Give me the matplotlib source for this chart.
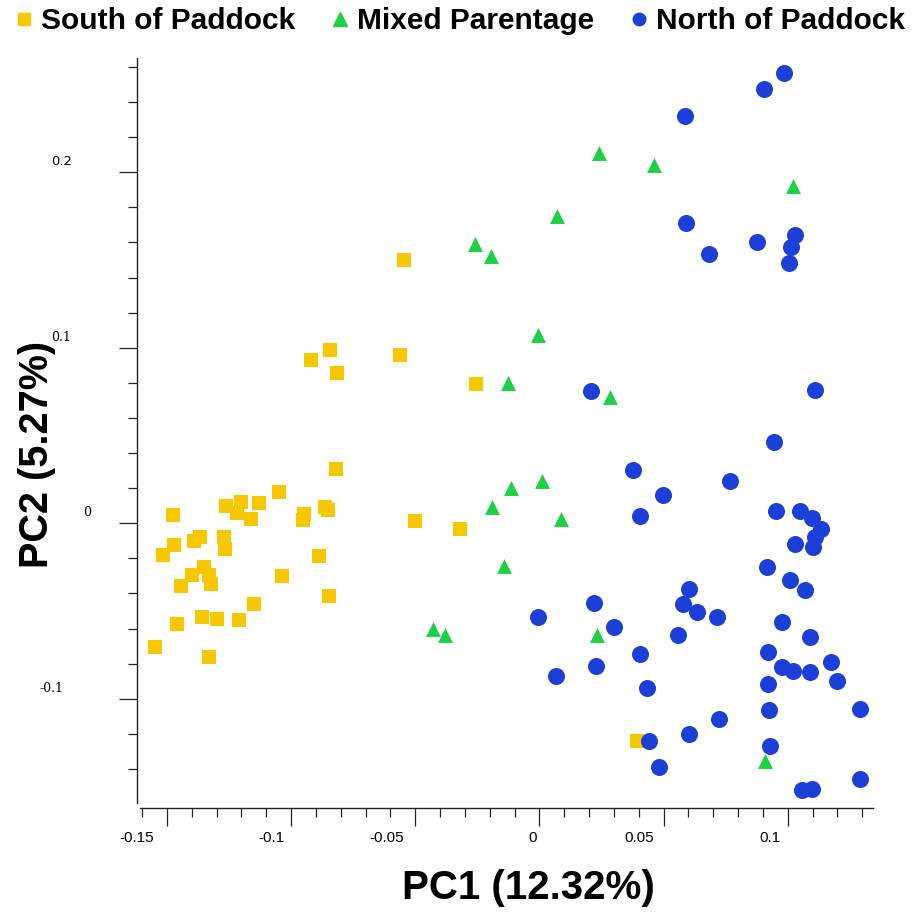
import matplotlib.pyplot as plt
import matplotlib.transforms as mtransforms
from matplotlib.lines import Line2D
from matplotlib.ticker import FixedLocator, MultipleLocator

group_names = ['South of Paddock', 'Mixed Parentage', 'North of Paddock']

south_x = [-0.0545, -0.0561, -0.0255, -0.0919, -0.0843, -0.0814, -0.0820, -0.0500, -0.0319, -0.1047,
           -0.1475, -0.1261, -0.1200, -0.1128, -0.1216, -0.1161, -0.0948, -0.0950, -0.0863, -0.0853,
           -0.1366, -0.1390, -0.1271, -0.1265, -0.1471, -0.1516, -0.0888, -0.1349, -0.1399, -0.1331,
           -0.1323, -0.1441, -0.1036, -0.0847, -0.1149, -0.1460, -0.1359, -0.1296, -0.1210, -0.1547,
           -0.1330, 0.0393]
south_y = [0.150, 0.0959, 0.0794, 0.0930, 0.0987, 0.0856, 0.0309, 0.0013, -0.0032, 0.0178,
           0.0047, 0.0099, 0.0123, 0.0116, 0.0057, 0.0023, 0.0051, 0.0019, 0.0095, 0.0074,
           -0.0080, -0.0099, -0.0076, -0.0146, -0.0125, -0.0179, -0.0185, -0.0247, -0.0295, -0.0295,
           -0.0346, -0.0357, -0.0300, -0.0416, -0.0458, -0.0574, -0.0532, -0.0545, -0.0553, -0.0705,
           -0.0762, -0.1240]

mixed_x = [0.0240, 0.0461, 0.1021, 0.0072, -0.0259, -0.0194, -0.0005, -0.0126, 0.0284, -0.0114,
           0.0011, -0.0190, 0.0087, -0.0142, -0.0428, -0.0380, 0.0232, 0.0908]
mixed_y = [0.211, 0.204, 0.192, 0.175, 0.159, 0.152, 0.107, 0.080, 0.072, 0.020,
           0.024, 0.0093, 0.0025, -0.0244, -0.0602, -0.0636, -0.0636, -0.1354]

north_x = [0.0985, 0.0904, 0.0586, 0.0591, 0.0683, 0.0877, 0.1029, 0.1013, 0.1005, 0.0208,
           0.1110, 0.0945, 0.0377, 0.0498, 0.0768, 0.0405, 0.0953, 0.1049, 0.1097, 0.1134,
           0.1110, 0.1029, 0.1102, 0.0917, 0.1009, 0.1069, 0.0603, 0.0578, 0.0635, 0.0715,
           0.0220, 0.0301, -0.0005, 0.0557, 0.0976, 0.1089, 0.0405, 0.0921, 0.0228, 0.0067,
           0.0433, 0.0976, 0.1021, 0.1089, 0.1174, 0.1198, 0.0921, 0.0925, 0.1291, 0.0723,
           0.0442, 0.0603, 0.0929, 0.0482, 0.1291, 0.1059, 0.1097]
north_y = [0.2566, 0.2474, 0.2321, 0.1711, 0.1534, 0.1603, 0.1643, 0.1575, 0.1483, 0.0754,
           0.0760, 0.0463, 0.0304, 0.0161, 0.0241, 0.0042, 0.0070, 0.0070, 0.0030, -0.0032,
           -0.0078, -0.0118, -0.0135, -0.0249, -0.0323, -0.0380, -0.0374, -0.0460, -0.0506, -0.0534,
           -0.0454, -0.0591, -0.0534, -0.0637, -0.0562, -0.0648, -0.0745, -0.0733, -0.0813, -0.0870,
           -0.0938, -0.0819, -0.0842, -0.0847, -0.0790, -0.0899, -0.0915, -0.1063, -0.1058, -0.1113,
           -0.1240, -0.1200, -0.1269, -0.1389, -0.1458, -0.1520, -0.1514]

x_ticks = [-0.15, -0.1, -0.05, 0, 0.05, 0.1]
x_tick_labels = ['-0.15', '-0.1', '-0.05', '0', '0.05', '0.1']
y_ticks = [-0.1, 0, 0.1, 0.2]
y_tick_labels = ['-0.1', '0', '0.1', '0.2']

yellow = '#F7C700'
green = '#1ED144'
blue = '#1C3FD8'

fig = plt.figure(figsize=(9.24, 9.13), dpi=100)
ax = fig.add_axes([140 / 924, 110 / 913, 733 / 924, 745 / 913])

ax.scatter(south_x, south_y, marker='s', s=100, color=yellow, linewidths=0, zorder=2)
ax.scatter(mixed_x, mixed_y, marker='^', s=115, color=green, linewidths=0, zorder=3)
ax.scatter(north_x, north_y, marker='o', s=150, color=blue, linewidths=0, zorder=4)

ax.set_xlim(-0.1608, 0.1343)
ax.set_ylim(-0.1594, 0.2651)

for side in ['top', 'right']:
    ax.spines[side].set_visible(False)
ax.spines['bottom'].set_position(('outward', 3.6))
ax.spines['left'].set_position(('outward', 2.2))
for side in ['bottom', 'left']:
    ax.spines[side].set_linewidth(1.0)
    ax.spines[side].set_color('#222222')

ax.xaxis.set_major_locator(FixedLocator(x_ticks))
ax.xaxis.set_minor_locator(MultipleLocator(0.01))
ax.yaxis.set_major_locator(FixedLocator(y_ticks))
ax.yaxis.set_minor_locator(MultipleLocator(0.02))
ax.set_xticklabels(x_tick_labels, fontfamily='Liberation Sans', fontsize=11)
ax.set_yticklabels(y_tick_labels, fontfamily='DejaVu Serif', fontsize=9)

ax.tick_params(which='major', length=13, width=0.9, color='#222222')
ax.tick_params(which='minor', length=6.5, width=0.9, color='#222222')
ax.tick_params(axis='x', which='major', pad=3.5)
ax.tick_params(axis='y', which='major', pad=34)

# the source program draws its tick labels a little off the ticks
x_label_shift = [-30, -20, -29, -7, -24, -18]
for lab, dx in zip(ax.get_xticklabels(), x_label_shift):
    lab.set_transform(lab.get_transform() + mtransforms.ScaledTranslation(dx / 100, 0, fig.dpi_scale_trans))
y_label_shift = [-8, 19, -1, 0]
for lab, dx in zip(ax.get_yticklabels(), y_label_shift):
    lab.set_transform(lab.get_transform() + mtransforms.ScaledTranslation(dx / 100, 12 / 100, fig.dpi_scale_trans))
ax.get_yticklabels()[3].set_fontfamily('DejaVu Sans')
ax.get_yticklabels()[3].set_fontsize(9.5)

fig.text(528 / 924, 1 - 888 / 913, 'PC1 (12.32%)', ha='center', va='center',
         fontfamily='Liberation Sans', fontweight='bold', fontsize=29)
fig.text(37 / 924, 1 - 454 / 913, 'PC2 (5.27%)', ha='center', va='center', rotation=90,
         fontfamily='Liberation Sans', fontweight='bold', fontsize=28.5)

handles = [
    Line2D([], [], linestyle='none', marker='s', markersize=9, color=yellow),
    Line2D([], [], linestyle='none', marker='^', markersize=10, color=green),
    Line2D([], [], linestyle='none', marker='o', markersize=9, color=blue),
]
fig.legend(handles, group_names, loc='center', bbox_to_anchor=(460 / 924, 1 - 21 / 913), ncol=3,
           frameon=False, prop={'family': 'Liberation Sans', 'weight': 'bold', 'size': 21.5},
           handlelength=0.6, handletextpad=0.28, columnspacing=1.2, borderaxespad=0, borderpad=0)

fig.savefig('out.png', dpi=100)
